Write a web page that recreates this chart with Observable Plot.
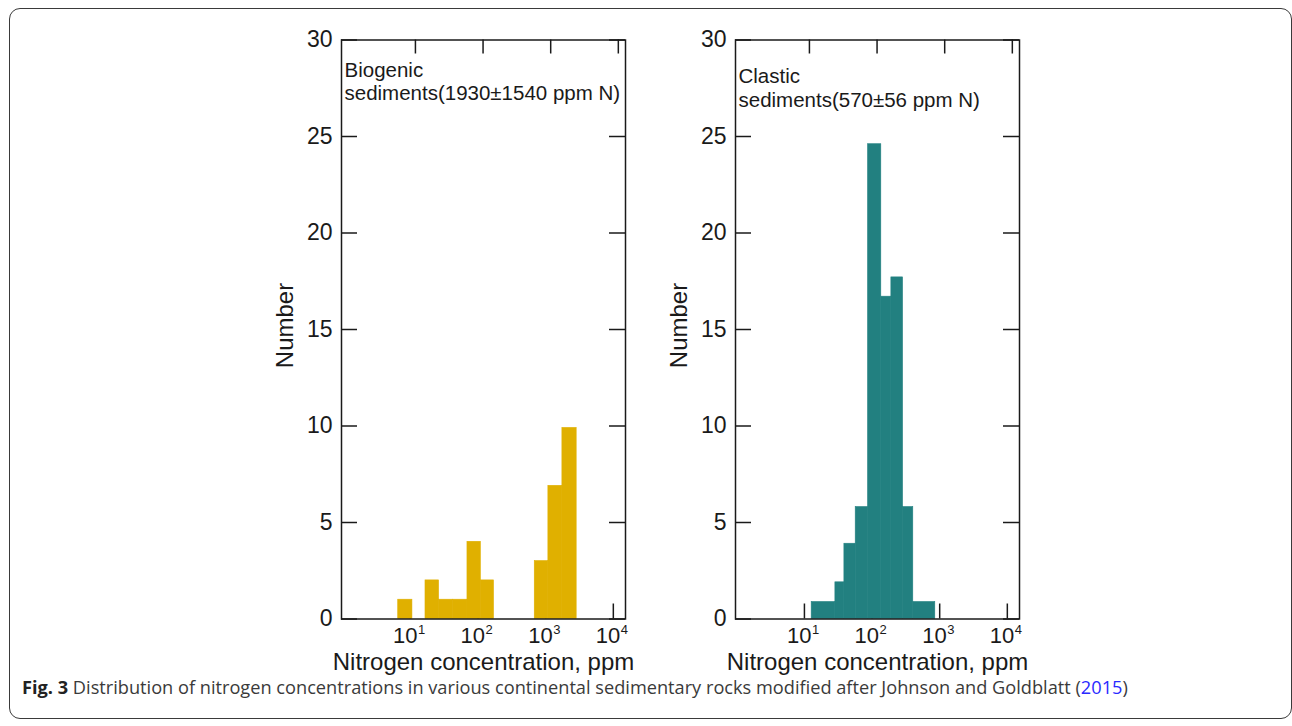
<!DOCTYPE html>
<html>
<head>
<meta charset="utf-8">
<script src="https://cdn.jsdelivr.net/npm/d3@7"></script>
<script src="https://cdn.jsdelivr.net/npm/@observablehq/plot@0.6"></script>
<style>
  html, body { margin: 0; padding: 0; background: #fff; }
  #wrap { position: relative; width: 1292px; height: 726px; overflow: hidden; background: #fff; }
  #border { position: absolute; left: 9px; top: 8px; width: 1283px; height: 711px; border: 1.5px solid #3a3a3a; border-radius: 11px; box-sizing: border-box; }
  #p1 { position: absolute; left: 250px; top: 20px; }
  #p2 { position: absolute; left: 644px; top: 20px; }
  #cap { position: absolute; left: 22px; top: 677px; font-family: "Open Sans", sans-serif; font-size: 18.2px; line-height: 20px; color: #3a3a3a; white-space: nowrap; }
  #cap b { color: #222; }
  #cap .ref { color: #2a2aff; }
</style>
</head>
<body>
<div id="wrap">
  <div id="border"></div>
  <div id="p1"></div>
  <div id="p2"></div>
  <div id="cap"><b>Fig. 3</b> Distribution of nitrogen concentrations in various continental sedimentary rocks modified after Johnson and Goldblatt (<span class="ref">2015</span>)</div>
</div>
<script>
// ---- Data ----
// Biogenic sediments: bin edges (ppm N) and counts
const biogenicLo    = [6.6, 16.7, 26.5, 43, 69.7, 110, 689, 1096, 1766];
const biogenicHi    = [10.7, 26.5, 43, 69.7, 110, 172, 1096, 1766, 2871];
const biogenicCount = [1, 2, 1, 1, 4, 2, 3, 6.9, 9.9];

// Clastic sediments: bin edges (ppm N) and counts
const clasticLo    = [12.8, 28.7, 39, 57.3, 87.3, 137, 193, 287, 407];
const clasticHi    = [28.7, 39, 57.3, 87.3, 137, 193, 287, 407, 861];
const clasticCount = [0.88, 1.9, 3.9, 5.8, 24.6, 16.7, 17.7, 5.8, 0.88];

// Axes
const yTicks = [0, 5, 10, 15, 20, 25, 30];
const xTicks = [10, 100, 1000, 10000];
const xExponents = ["1", "2", "3", "4"];
const xDomain = [0.957, 15136];
const yDomain = [0, 30];

const xLabel = "Nitrogen concentration, ppm";
const yLabel = "Number";
const biogenicText = ["Biogenic", "sediments(1930\u00b11540 ppm N)"];
const clasticText  = ["Clastic", "sediments(570\u00b156 ppm N)"];

const gold = "#e0b000";
const teal = "#228080";

const W = 400, H = 680, ML = 91, MR = 25, MT = 19.5, MB = 81.5;
const FW = W - ML - MR;       // frame width
const FH = H - MT - MB;       // frame height
const ink = "#1a1a1a";
const font = "'Liberation Sans', Arial, Helvetica, sans-serif";

function panel(lo, hi, cnt, color, lines, textDy) {
  const bins = lo.map((d, i) => ({x1: d, x2: hi[i], n: cnt[i]}));
  const tickIdx = xTicks.map((d, i) => i);
  return Plot.plot({
    width: W, height: H,
    marginLeft: ML, marginRight: MR, marginTop: MT, marginBottom: MB,
    style: {fontFamily: font, color: ink, background: "transparent", overflow: "visible"},
    x: {type: "log", domain: xDomain, axis: null},
    y: {domain: yDomain, axis: null},
    marks: [
      // x ticks (bottom, inward) and top (inward)
      Plot.tickX(xTicks, {x: d => d, stroke: ink, strokeWidth: 1.5, insetTop: FH - 15}),
      Plot.tickX(xTicks, {x: d => d, stroke: ink, strokeWidth: 1.5, insetBottom: FH - 14, dx: 5}),
      // y ticks left and right (inward)
      Plot.tickY(yTicks, {y: d => d, stroke: ink, strokeWidth: 1.5, insetRight: FW - 16}),
      Plot.tickY(yTicks, {y: d => d, stroke: ink, strokeWidth: 1.5, insetLeft: FW - 16}),
      // histogram bars
      Plot.rectY(bins, {x1: "x1", x2: "x2", y: "n", fill: color, stroke: color, strokeWidth: 0.6, inset: 0}),
      Plot.frame({stroke: ink, strokeWidth: 1.5}),
      // y tick labels
      Plot.text(yTicks, {y: d => d, text: d => String(d), frameAnchor: "left", textAnchor: "end", dx: -9, fontSize: 23, fill: ink}),
      // x tick labels: "10" plus superscript exponent
      Plot.text(tickIdx, {x: i => xTicks[i], text: () => "10", frameAnchor: "bottom", textAnchor: "end", dx: 7, dy: 24, lineAnchor: "bottom", fontSize: 22, fill: ink}),
      Plot.text(tickIdx, {x: i => xTicks[i], text: i => xExponents[i], frameAnchor: "bottom", textAnchor: "start", dx: 7.5, dy: 15, lineAnchor: "bottom", fontSize: 13, fill: ink}),
      // axis titles
      Plot.text([xLabel], {text: d => d, frameAnchor: "bottom", textAnchor: "middle", dy: 43.5, lineAnchor: "middle", fontSize: 24, fill: ink}),
      Plot.text([yLabel], {text: d => d, frameAnchor: "left", textAnchor: "middle", dx: -56, dy: -4, rotate: -90, lineAnchor: "middle", fontSize: 24, fill: ink}),
      // annotation
      Plot.text([lines[0]], {text: d => d, frameAnchor: "top-left", textAnchor: "start", lineAnchor: "bottom", dx: 3, dy: textDy[0], fontSize: 20.5, fill: ink}),
      Plot.text([lines[1]], {text: d => d, frameAnchor: "top-left", textAnchor: "start", lineAnchor: "bottom", dx: 3, dy: textDy[1], fontSize: 20.5, fill: ink})
    ]
  });
}

document.getElementById("p1").appendChild(panel(biogenicLo, biogenicHi, biogenicCount, gold, biogenicText, [36.5, 60]));
document.getElementById("p2").appendChild(panel(clasticLo, clasticHi, clasticCount, teal, clasticText, [43, 66.5]));
</script>
</body>
</html>
